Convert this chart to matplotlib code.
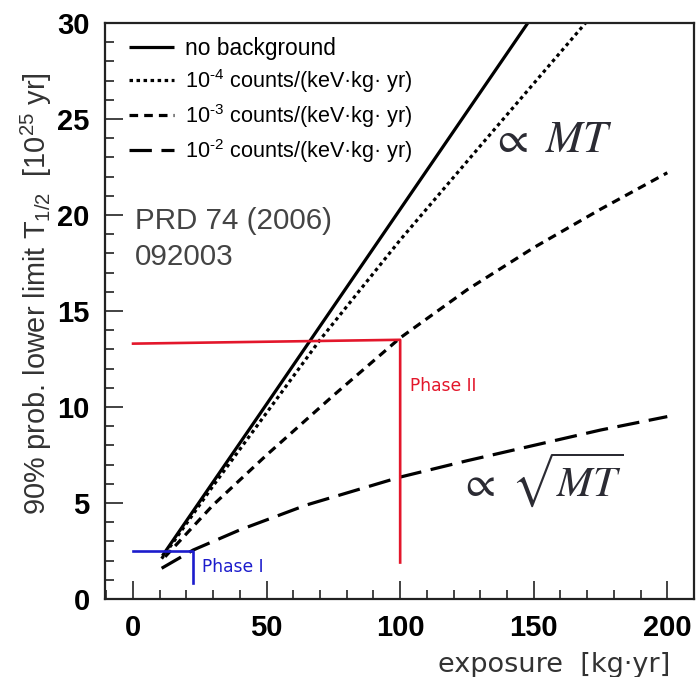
import matplotlib
matplotlib.use("Agg")
import matplotlib.pyplot as plt
from matplotlib.ticker import MultipleLocator

plt.rcParams['mathtext.fontset'] = 'custom'
plt.rcParams['mathtext.rm'] = 'Liberation Sans'
plt.rcParams['mathtext.it'] = 'Liberation Sans:italic'
plt.rcParams['mathtext.bf'] = 'Liberation Sans:bold'
plt.rcParams['font.family'] = ['Liberation Sans', 'DejaVu Sans']

# ---- data ----
exp_nobkg = [11, 50, 100, 150]
t_nobkg = [2.25, 10.15, 20.3, 30.45]

exp_b4 = [10.7, 30, 50, 70, 100, 130, 170, 180]
t_b4 = [2.1, 5.9, 9.7, 13.5, 18.7, 23.6, 30.1, 31.7]

exp_b3 = [12, 30, 50, 75, 100, 125, 150, 175, 200]
t_b3 = [2.2, 4.9, 7.5, 10.6, 13.6, 16.1, 18.3, 20.3, 22.2]

exp_b2 = [10.7, 22.5, 40, 65, 100, 125, 150, 175, 200]
t_b2 = [1.6, 2.55, 3.6, 4.9, 6.35, 7.2, 8.0, 8.8, 9.5]

phase2_x = [0, 100, 100]
phase2_y = [13.3, 13.5, 1.9]
phase1_x = [0, 22.5, 22.5]
phase1_y = [2.5, 2.5, 0.85]

labels = ["no background",
          r"10$^{\text{-}4}$ counts/(keV·kg· yr)",
          r"10$^{\text{-}3}$ counts/(keV·kg· yr)",
          r"10$^{\text{-}2}$ counts/(keV·kg· yr)"]

xticks = [0, 50, 100, 150, 200]
yticks = [0, 5, 10, 15, 20, 25, 30]

fig = plt.figure(figsize=(6.97, 6.77), dpi=100)
ax = fig.add_axes([105/697, 1-599/677, (694-105)/697, (599-23)/677])

lw = 2.3
ax.plot(exp_nobkg, t_nobkg, color='black', lw=lw, solid_capstyle='butt', label=labels[0])
ax.plot(exp_b4, t_b4, color='black', lw=lw, linestyle=(0, (1.1, 1.1)), label=labels[1])
ax.plot(exp_b3, t_b3, color='black', lw=lw, linestyle=(0, (2.7, 1.9)), label=labels[2])
ax.plot(exp_b2, t_b2, color='black', lw=lw, linestyle=(0, (7.0, 3.0)), label=labels[3])

ax.plot(phase2_x, phase2_y, color='#e3172b', lw=1.9)
ax.plot(phase1_x, phase1_y, color='#1c1ccc', lw=1.9)

ax.text(103.5, 11.1, "Phase II", color='#e3172b', fontsize=12.3, family='DejaVu Sans', va='center')
ax.text(26, 1.65, "Phase I", color='#1c1ccc', fontsize=12.3, family='DejaVu Sans', va='center')

ax.text(0.8, 18.75, "PRD 74 (2006)\n092003", color='#444444', fontsize=21.3, va='center',
        linespacing=1.38)

ax.text(134, 23.9, r"$\propto\ MT$", math_fontfamily='stix', fontsize=32, color='#2b2b33', va='center')
ax.text(122, 6.2, r"$\propto\ \sqrt{MT}$", math_fontfamily='stix', fontsize=31, color='#2b2b33', va='center')

ax.set_xlim(-10.5, 210)
ax.set_ylim(0, 30)
ax.set_xticks(xticks)
ax.set_yticks(yticks)
ax.xaxis.set_minor_locator(MultipleLocator(10))
ax.yaxis.set_minor_locator(MultipleLocator(1))
ax.tick_params(which='both', direction='in', top=False, right=False, color='#222222', width=1.2)
ax.tick_params(which='major', length=13, labelsize=21, pad=11)
ax.tick_params(which='minor', length=6.5)
for lab in ax.get_xticklabels() + ax.get_yticklabels():
    lab.set_fontweight('bold')
for s in ax.spines.values():
    s.set_linewidth(1.6)
    s.set_color('#222222')

leg = ax.legend(loc='upper left', bbox_to_anchor=(0.025, 0.992), frameon=False, fontsize=16.4,
                handlelength=2.0, handletextpad=0.45, labelspacing=0.31, borderaxespad=0)
for t in leg.get_texts()[1:]:
    t.set_fontsize(15.6)

fig.text(36/697, 1-294/677, r"90% prob. lower limit T$_{1/2}$  [10$^{25}$ yr]", rotation=90,
         ha='center', va='center', fontsize=20.8, color='#333333')
fig.text(670/697, 1-665/677, "exposure  [kg·yr]", ha='right', va='center', fontsize=19.5,
         family='DejaVu Sans', color='#333333')

fig.savefig("out.png", dpi=100)
